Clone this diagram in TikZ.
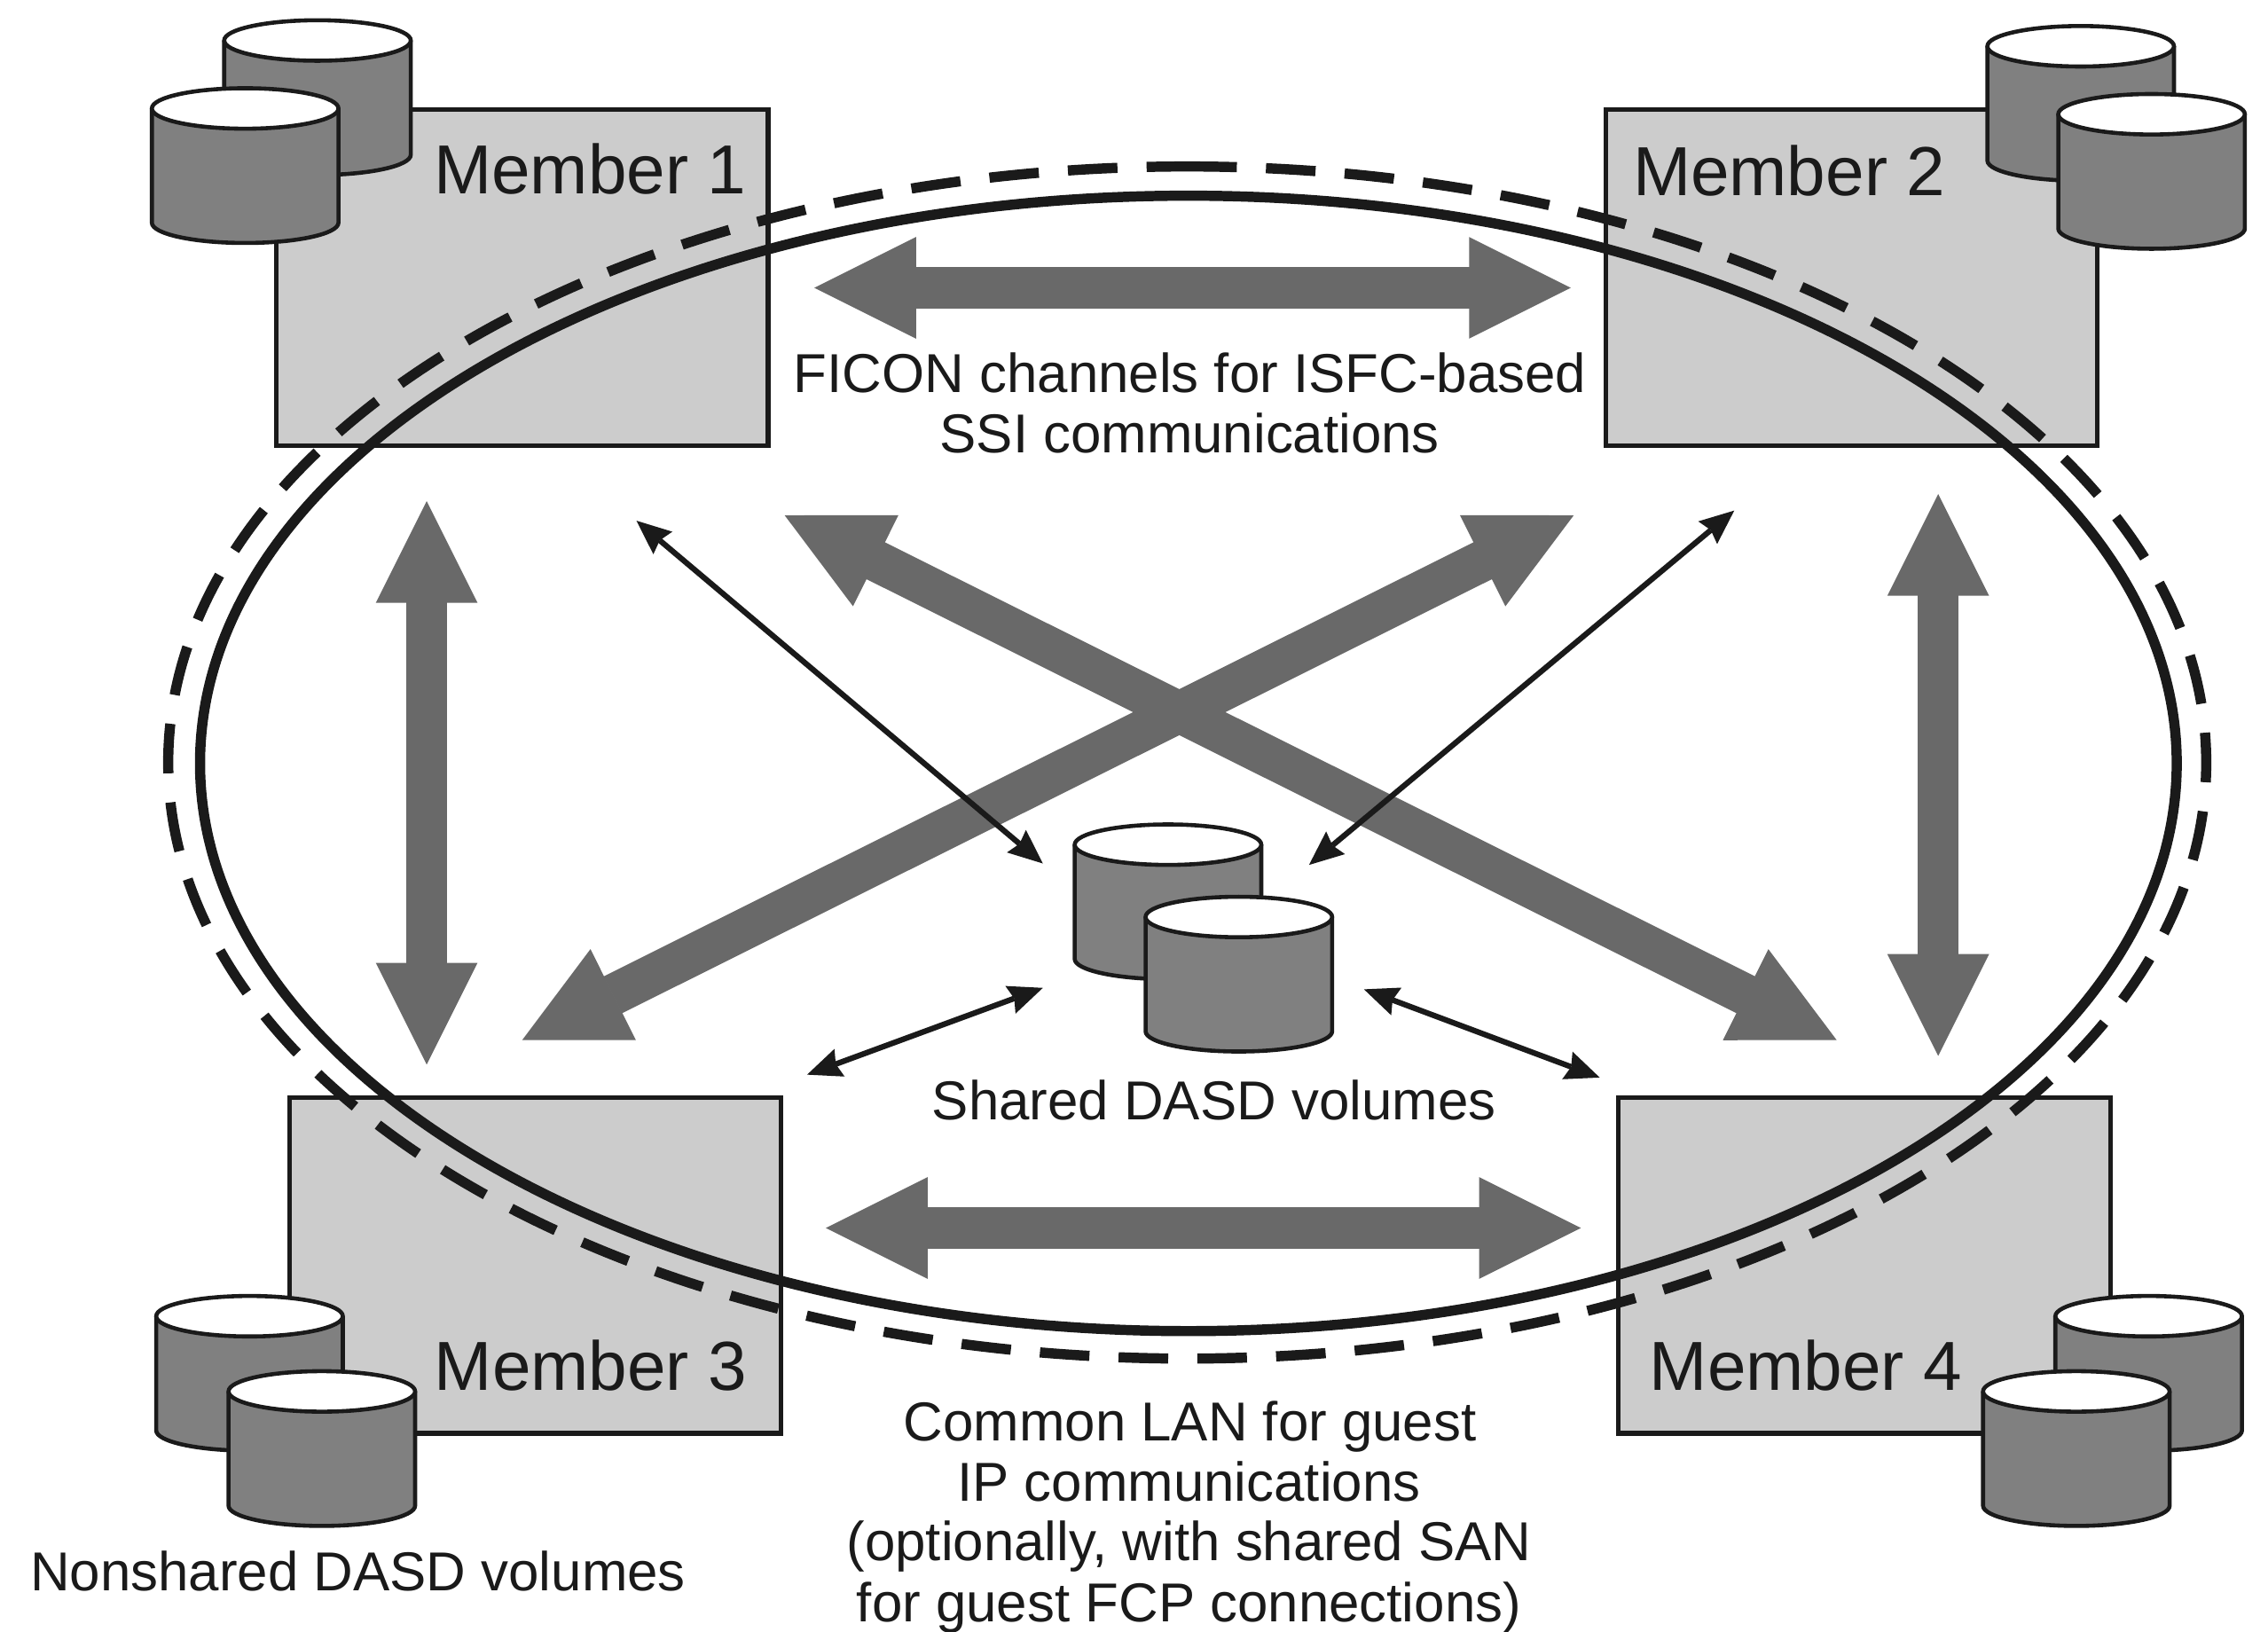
\documentclass[tikz,border=0pt]{standalone}
\usepackage{fontspec}
\setmainfont{Liberation Sans}
\usetikzlibrary{arrows.meta}
\definecolor{rectgray}{HTML}{CCCCCC}
\definecolor{cylgray}{HTML}{808080}
\definecolor{arrowgray}{HTML}{696969}
\definecolor{ink}{HTML}{1A1A1A}
\tikzset{
  member/.style={draw=ink,fill=rectgray,line width=0.9pt},
  ring/.style={draw=ink,line width=2pt},
  memlabel/.style={anchor=base,text=ink,font=\fontsize{13.65pt}{16pt}\selectfont,inner sep=0pt},
  caption/.style={anchor=base,text=ink,font=\fontsize{10.78pt}{13pt}\selectfont,inner sep=0pt},
  block/.style={draw=arrowgray,line width=8.1pt,
    {Triangle[length=20pt,width=19.9pt,line width=0.4pt]}-{Triangle[length=20pt,width=19.9pt,line width=0.4pt]}},
  thin link/.style={draw=ink,line width=1.1pt,
    {Stealth[length=6.8pt,width=5.8pt,inset=0.8pt,line width=0pt]}-{Stealth[length=6.8pt,width=5.8pt,inset=0.8pt,line width=0pt]}},
}
% #1 left x, #2 top y
\newcommand{\drum}[2]{%
  \begin{scope}[shift={(#1,#2)}]
    \fill[cylgray] (0,14) -- (0,93) arc[start angle=180,end angle=0,x radius=64.5,y radius=14] -- (129,14) -- cycle;
    \draw[ink,line width=0.8pt] (0,14) -- (0,93) arc[start angle=180,end angle=0,x radius=64.5,y radius=14] -- (129,14);
    \draw[ink,fill=white,line width=0.8pt] (64.5,14) ellipse[x radius=64.5,y radius=14];
  \end{scope}}
\begin{document}
\begin{tikzpicture}[x=0.01cm,y=-0.01cm]
\useasboundingbox[fill=white] (0,0) rectangle (1568,1128);
% members
\draw[member] (191,76) rectangle (531,308);
\draw[member] (1110,76) rectangle (1450,308);
\draw[member] (200,759) rectangle (540,991);
\draw[member] (1119,759) rectangle (1459,991);
% drums
\drum{155}{14}\drum{105}{61}
\drum{1374}{18}\drum{1423}{65}
\drum{108}{896}\drum{158}{948}
\drum{1421}{896}\drum{1371}{948}
\drum{743}{570}\drum{792}{620}
% rings
\draw[ring] (821.6,527.8) ellipse[x radius=683.3,y radius=392.5];
\draw[ring,dash pattern=on 9.75pt off 5.74pt] (820.8,115.1) arc[start angle=-90,delta angle=360,x radius=704.5,y radius=412.1];
% anchors for connectors
\coordinate (tl) at (563,199); \coordinate (tr) at (1086,199);
\coordinate (bl) at (571,849); \coordinate (br) at (1093,849);
\coordinate (lt) at (295,346.5); \coordinate (lb) at (295,736);
\coordinate (rt) at (1340,341.5); \coordinate (rb) at (1340,730);
\coordinate (da) at (542.5,356.3); \coordinate (db) at (1269.8,719.1);
\coordinate (dc) at (1088,356.3); \coordinate (dd) at (361,719.1);
\coordinate (s1) at (440,360); \coordinate (s1e) at (721,597);
\coordinate (s2) at (1199,353); \coordinate (s2e) at (905,598);
\coordinate (s3) at (558,743); \coordinate (s3e) at (721,683);
\coordinate (s4) at (1106,745); \coordinate (s4e) at (943,684);
% block arrows
\draw[block] (tl) -- (tr);
\draw[block] (bl) -- (br);
\draw[block] (lt) -- (lb);
\draw[block] (rt) -- (rb);
\draw[block] (da) -- (db);
\draw[block] (dc) -- (dd);
% thin arrows
\draw[thin link] (s1) -- (s1e);
\draw[thin link] (s2) -- (s2e);
\draw[thin link] (s3) -- (s3e);
\draw[thin link] (s4) -- (s4e);
% labels
\node[memlabel] (m1) at (408,134) {Member 1};
\node[memlabel] (m2) at (1237,135) {Member 2};
\node[memlabel] (m3) at (408.5,961) {Member 3};
\node[memlabel] (m4) at (1248.5,961) {Member 4};
\node[caption] (c1) at (822.7,271.5) {FICON channels for ISFC-based};
\node[caption] (c2) at (822.5,313) {SSI communications};
\node[caption] (c3) at (839.3,774) {Shared DASD volumes};
\node[caption] (c4) at (247.5,1100) {Nonshared DASD volumes};
\node[caption] (c5) at (822.7,996) {Common LAN for guest};
\node[caption] (c6) at (822,1038) {IP communications};
\node[caption] (c7) at (822,1079) {(optionally, with shared SAN};
\node[caption] (c8) at (822,1121) {for guest FCP connections)};
\end{tikzpicture}
\end{document}
